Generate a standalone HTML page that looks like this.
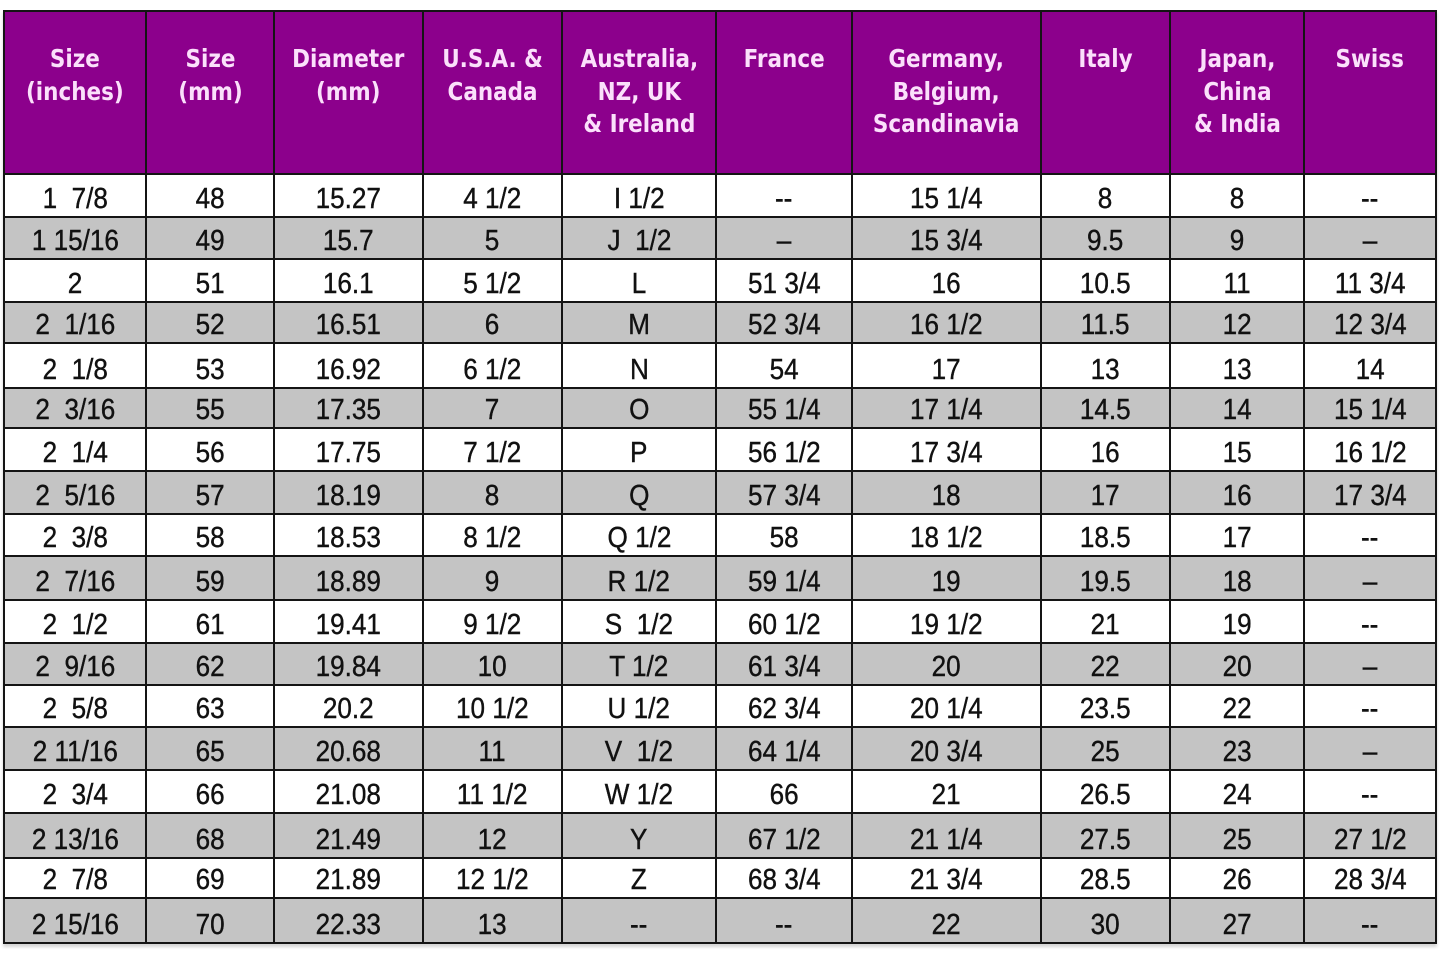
<!DOCTYPE html>
<html>
<head>
<meta charset="utf-8">
<style>
  html, body { margin: 0; padding: 0; background: #fff; }
  body { width: 1445px; height: 954px; position: relative; overflow: hidden; }
  .g {
    position: absolute; left: 3px; top: 10px;
    display: grid;
    background: #141414;
    padding: 2px;
    gap: 2px;
    grid-template-columns: 140px 126px 147px 137px 152px 134px 187px 127px 132px 130px;
    grid-template-rows: 161px 41px 40px 41px 39px 43px 38px 41px 41px 40px 42px 41px 40px 40px 41px 41px 43px 38px 43px;
    box-shadow: 0 3px 3px #d4d4d4;
  }
  .r { display: contents; }
  .h > div {
    background: #8c008c;
    color: #fbe0fb;
    font-family: "DejaVu Sans", "Liberation Sans", sans-serif;
    font-weight: bold;
    font-size: 25px;
    line-height: 32.5px;
    text-align: center;
    padding-top: 31px;
    box-sizing: border-box;
    overflow: hidden;
  }
  .h > div > span { display: inline-block; transform: scaleX(0.86); white-space: nowrap; }
  .d > div {
    background: #fff;
    color: #111;
    font-family: "Liberation Sans", Arial, sans-serif;
    font-size: 29px;
    line-height: 29px;
    display: flex;
    align-items: flex-end;
    justify-content: center;
    padding-bottom: 2px;
    box-sizing: border-box;
    overflow: hidden;
    -webkit-text-stroke: 0.4px #111;
  }
  .d.g2 > div { background: #c4c4c4; }
  .d > div > span { display: inline-block; transform: scaleX(0.9); white-space: pre; }
</style>
</head>
<body>
<div class="g">
  <div class="r h">
    <div><span>Size<br>(inches)</span></div>
    <div><span>Size<br>(mm)</span></div>
    <div><span>Diameter<br>(mm)</span></div>
    <div><span>U.S.A. &amp;<br>Canada</span></div>
    <div><span>Australia,<br>NZ, UK<br>&amp; Ireland</span></div>
    <div><span>France</span></div>
    <div><span>Germany,<br>Belgium,<br>Scandinavia</span></div>
    <div><span>Italy</span></div>
    <div><span>Japan,<br>China<br>&amp; India</span></div>
    <div><span>Swiss</span></div>
  </div>
  <div class="r d"><div><span>1  7/8</span></div><div><span>48</span></div><div><span>15.27</span></div><div><span>4 1/2</span></div><div><span>I 1/2</span></div><div><span>--</span></div><div><span>15 1/4</span></div><div><span>8</span></div><div><span>8</span></div><div><span>--</span></div></div>
  <div class="r d g2"><div><span>1 15/16</span></div><div><span>49</span></div><div><span>15.7</span></div><div><span>5</span></div><div><span>J  1/2</span></div><div><span>–</span></div><div><span>15 3/4</span></div><div><span>9.5</span></div><div><span>9</span></div><div><span>–</span></div></div>
  <div class="r d"><div><span>2</span></div><div><span>51</span></div><div><span>16.1</span></div><div><span>5 1/2</span></div><div><span>L</span></div><div><span>51 3/4</span></div><div><span>16</span></div><div><span>10.5</span></div><div><span>11</span></div><div><span>11 3/4</span></div></div>
  <div class="r d g2"><div><span>2  1/16</span></div><div><span>52</span></div><div><span>16.51</span></div><div><span>6</span></div><div><span>M</span></div><div><span>52 3/4</span></div><div><span>16 1/2</span></div><div><span>11.5</span></div><div><span>12</span></div><div><span>12 3/4</span></div></div>
  <div class="r d"><div><span>2  1/8</span></div><div><span>53</span></div><div><span>16.92</span></div><div><span>6 1/2</span></div><div><span>N</span></div><div><span>54</span></div><div><span>17</span></div><div><span>13</span></div><div><span>13</span></div><div><span>14</span></div></div>
  <div class="r d g2"><div><span>2  3/16</span></div><div><span>55</span></div><div><span>17.35</span></div><div><span>7</span></div><div><span>O</span></div><div><span>55 1/4</span></div><div><span>17 1/4</span></div><div><span>14.5</span></div><div><span>14</span></div><div><span>15 1/4</span></div></div>
  <div class="r d"><div><span>2  1/4</span></div><div><span>56</span></div><div><span>17.75</span></div><div><span>7 1/2</span></div><div><span>P</span></div><div><span>56 1/2</span></div><div><span>17 3/4</span></div><div><span>16</span></div><div><span>15</span></div><div><span>16 1/2</span></div></div>
  <div class="r d g2"><div><span>2  5/16</span></div><div><span>57</span></div><div><span>18.19</span></div><div><span>8</span></div><div><span>Q</span></div><div><span>57 3/4</span></div><div><span>18</span></div><div><span>17</span></div><div><span>16</span></div><div><span>17 3/4</span></div></div>
  <div class="r d"><div><span>2  3/8</span></div><div><span>58</span></div><div><span>18.53</span></div><div><span>8 1/2</span></div><div><span>Q 1/2</span></div><div><span>58</span></div><div><span>18 1/2</span></div><div><span>18.5</span></div><div><span>17</span></div><div><span>--</span></div></div>
  <div class="r d g2"><div><span>2  7/16</span></div><div><span>59</span></div><div><span>18.89</span></div><div><span>9</span></div><div><span>R 1/2</span></div><div><span>59 1/4</span></div><div><span>19</span></div><div><span>19.5</span></div><div><span>18</span></div><div><span>–</span></div></div>
  <div class="r d"><div><span>2  1/2</span></div><div><span>61</span></div><div><span>19.41</span></div><div><span>9 1/2</span></div><div><span>S  1/2</span></div><div><span>60 1/2</span></div><div><span>19 1/2</span></div><div><span>21</span></div><div><span>19</span></div><div><span>--</span></div></div>
  <div class="r d g2"><div><span>2  9/16</span></div><div><span>62</span></div><div><span>19.84</span></div><div><span>10</span></div><div><span>T 1/2</span></div><div><span>61 3/4</span></div><div><span>20</span></div><div><span>22</span></div><div><span>20</span></div><div><span>–</span></div></div>
  <div class="r d"><div><span>2  5/8</span></div><div><span>63</span></div><div><span>20.2</span></div><div><span>10 1/2</span></div><div><span>U 1/2</span></div><div><span>62 3/4</span></div><div><span>20 1/4</span></div><div><span>23.5</span></div><div><span>22</span></div><div><span>--</span></div></div>
  <div class="r d g2"><div><span>2 11/16</span></div><div><span>65</span></div><div><span>20.68</span></div><div><span>11</span></div><div><span>V  1/2</span></div><div><span>64 1/4</span></div><div><span>20 3/4</span></div><div><span>25</span></div><div><span>23</span></div><div><span>–</span></div></div>
  <div class="r d"><div><span>2  3/4</span></div><div><span>66</span></div><div><span>21.08</span></div><div><span>11 1/2</span></div><div><span>W 1/2</span></div><div><span>66</span></div><div><span>21</span></div><div><span>26.5</span></div><div><span>24</span></div><div><span>--</span></div></div>
  <div class="r d g2"><div><span>2 13/16</span></div><div><span>68</span></div><div><span>21.49</span></div><div><span>12</span></div><div><span>Y</span></div><div><span>67 1/2</span></div><div><span>21 1/4</span></div><div><span>27.5</span></div><div><span>25</span></div><div><span>27 1/2</span></div></div>
  <div class="r d"><div><span>2  7/8</span></div><div><span>69</span></div><div><span>21.89</span></div><div><span>12 1/2</span></div><div><span>Z</span></div><div><span>68 3/4</span></div><div><span>21 3/4</span></div><div><span>28.5</span></div><div><span>26</span></div><div><span>28 3/4</span></div></div>
  <div class="r d g2"><div><span>2 15/16</span></div><div><span>70</span></div><div><span>22.33</span></div><div><span>13</span></div><div><span>--</span></div><div><span>--</span></div><div><span>22</span></div><div><span>30</span></div><div><span>27</span></div><div><span>--</span></div></div>
</div>
</body>
</html>
